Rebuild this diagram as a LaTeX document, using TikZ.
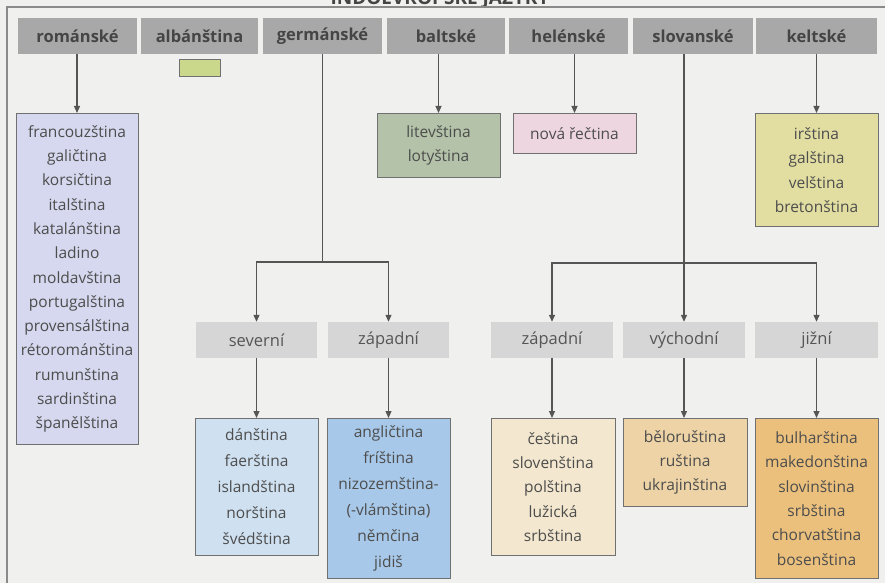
\documentclass[tikz,border=0pt]{standalone}
\usepackage{fontspec}
\setmainfont{Open Sans}
\usetikzlibrary{arrows.meta}
\definecolor{bg}{HTML}{F0F0EE}
\definecolor{hdrgray}{HTML}{A8A8A8}
\definecolor{hdrtxt}{HTML}{454545}
\definecolor{subgray}{HTML}{D6D6D6}
\definecolor{subtxt}{HTML}{555555}
\definecolor{txt}{HTML}{4D4D4D}
\definecolor{bordergray}{HTML}{707070}
\definecolor{linegray}{HTML}{555555}
\definecolor{framegray}{HTML}{8A8A8A}
\definecolor{cRom}{HTML}{D5D8EE}
\definecolor{cAlb}{HTML}{C9D88A}
\definecolor{cLit}{HTML}{B3C2A8}
\definecolor{cGrk}{HTML}{EED6E0}
\definecolor{cCel}{HTML}{E2DEA2}
\definecolor{cDan}{HTML}{CFE0F0}
\definecolor{cEng}{HTML}{A7C8E8}
\definecolor{cCz}{HTML}{F3E8CF}
\definecolor{cBel}{HTML}{EDD3A6}
\definecolor{cBul}{HTML}{EBC07D}
\begin{document}
\begin{tikzpicture}[x=1pt,y=-1pt,
  hdr/.style={fill=hdrgray, text=hdrtxt, font=\bfseries\fontsize{16.5}{18}\selectfont, inner sep=0pt, minimum height=36pt},
  sub/.style={fill=subgray, text=subtxt, font=\fontsize{16.5}{18}\selectfont, inner sep=0pt, minimum width=121pt, minimum height=36pt},
  lst/.style={draw=bordergray, line width=1pt, text=txt, align=center, font=\fontsize{15.5}{24.3}\selectfont, inner sep=0pt, anchor=north, minimum width=123pt},
  conn/.style={draw=linegray, line width=1.2pt},
  arr/.style={conn, -{Triangle[length=7pt,width=6pt]}}
]
\useasboundingbox (0,0) rectangle (885,583);
\fill[bg] (0,0) rectangle (885,583);
\begin{scope}
\clip (0,0) rectangle (885,5.5);
\node[anchor=base, text=hdrtxt, font=\bfseries\fontsize{19}{20}\selectfont] (title) at (440,5) {INDOEVROPSKÉ JAZYKY};
\end{scope}
\draw[framegray, line width=1.5pt] (7,583) -- (7,7) -- (885,7);

% top headers
\node[hdr, minimum width=119pt] (rom) at (77.5,36) {románské};
\node[hdr, minimum width=117pt] (alb) at (199.5,36) {albánština};
\node[hdr, minimum width=119pt] (ger) at (322.5,36) {germánské};
\node[hdr, minimum width=118pt] (bal) at (446,36) {baltské};
\node[hdr, minimum width=119pt] (hel) at (568.5,36) {helénské};
\node[hdr, minimum width=120pt] (slo) at (693,36) {slovanské};
\node[hdr, minimum width=121pt] (kel) at (816.5,36) {keltské};

% albanian small box
\node[draw=bordergray, fill=cAlb, line width=0.8pt, minimum width=41pt, minimum height=17pt, inner sep=0pt] (albL) at (199.5,67.5) {};

% lists at top
\node[lst, fill=cRom, minimum width=122pt, minimum height=331pt] (romL) at (77,113) {francouzština\\galičtina\\korsičtina\\italština\\katalánština\\ladino\\moldavština\\portugalština\\provensálština\\rétorománština\\rumunština\\sardinština\\španělština};
\node[lst, fill=cLit, minimum height=64pt] (litL) at (438.5,113) {litevština\\lotyština};
\node[lst, fill=cGrk, minimum height=40pt] (grkL) at (574.5,113) {nová řečtina};
\node[lst, fill=cCel, minimum height=113pt] (celL) at (816.5,113) {irština\\galština\\velština\\bretonština};

% germanic
\node[sub] (gN) at (256.5,340) {severní};
\node[sub] (gW) at (388.5,340) {západní};
\node[lst, fill=cDan, minimum height=137pt, font=\fontsize{15.5}{26}\selectfont] (danL) at (256.5,418) {dánština\\faerština\\islandština\\norština\\švédština};
\node[lst, fill=cEng, minimum height=160pt, font=\fontsize{15.5}{26}\selectfont] (engL) at (388.5,418) {angličtina\\fríština\\nizozemština-\\(-vlámština)\\němčina\\jidiš};

% slavic
\node[sub, minimum width=122pt] (sW) at (552,340) {západní};
\node[sub, minimum width=122pt] (sE) at (684,340) {východní};
\node[sub, minimum width=123pt] (sS) at (816.5,340) {jižní};
\node[lst, fill=cCz, minimum width=124pt, minimum height=137pt] (czL) at (553,418) {čeština\\slovenština\\polština\\lužická\\srbština};
\node[lst, fill=cBel, minimum width=124pt, minimum height=88pt] (belL) at (685,418) {běloruština\\ruština\\ukrajinština};
\node[lst, fill=cBul, minimum height=160pt] (bulL) at (816.5,418) {bulharština\\makedonština\\slovinština\\srbština\\chorvatština\\bosenština};

% connectors
\draw[arr] (rom.south -| romL.north) -- (romL.north);
\draw[arr] (bal.south -| litL.north) -- (litL.north);
\draw[arr] (hel.south -| grkL.north) -- (grkL.north);
\draw[arr] (kel.south) -- (celL.north);

\coordinate (gJ) at (322.5,262);
\draw[conn] (ger.south) -- (gJ);
\draw[arr] (gJ) -| (gN.north);
\draw[arr] (gJ) -| (gW.north);
\draw[arr] (gN.south) -- (gN.south |- danL.north);
\draw[arr] (gW.south) -- (gW.south |- engL.north);

\coordinate (sJ) at (684,263);
\draw[conn] (slo.south -| sJ) -- (sJ);
\draw[arr] (sJ) -| (sW.north);
\draw[arr] (sJ) -- (sE.north);
\draw[arr] (sJ) -| (sS.north);
\draw[arr] (sW.south) -- (sW.south |- czL.north);
\draw[arr] (sE.south) -- (sE.south |- belL.north);
\draw[arr] (sS.south) -- (bulL.north);
\end{tikzpicture}
\end{document}
